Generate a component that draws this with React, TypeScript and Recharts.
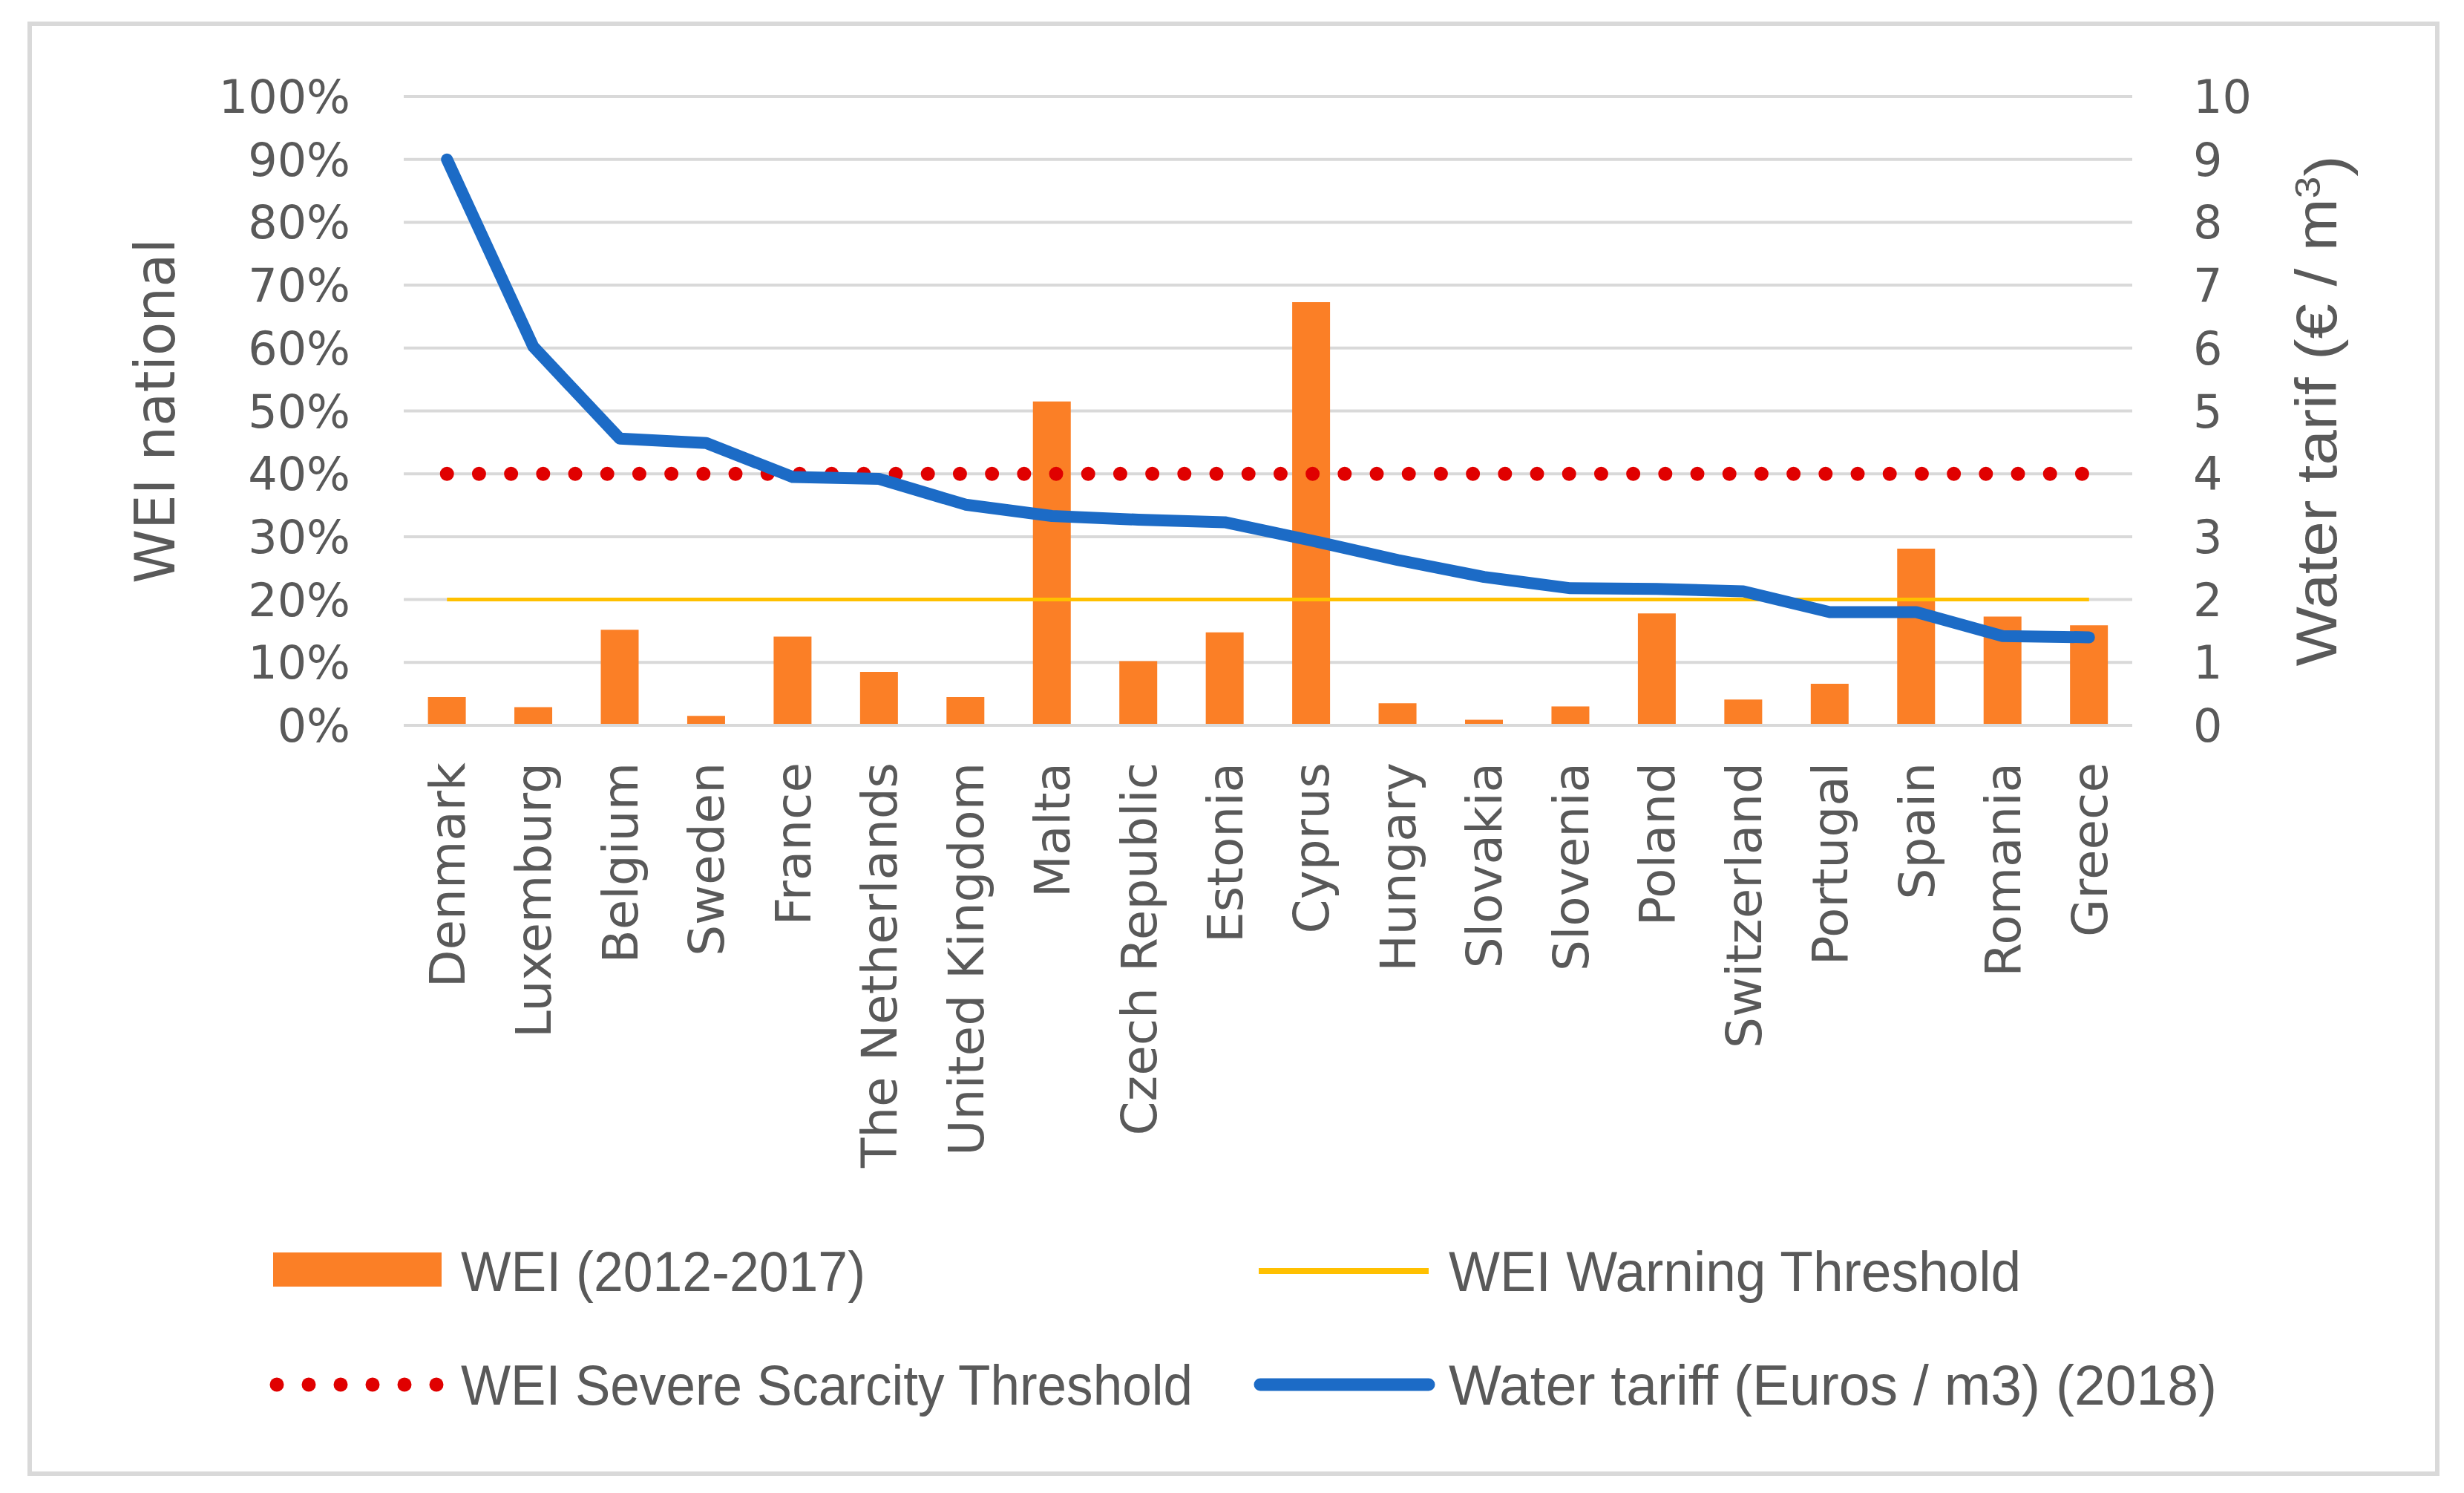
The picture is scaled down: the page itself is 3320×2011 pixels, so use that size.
import {
  ComposedChart,
  Bar,
  Line,
  XAxis,
  YAxis,
  CartesianGrid,
  Label,
} from "recharts"

const countries = [
  "Denmark", "Luxemburg", "Belgium", "Sweden", "France", "The Netherlands",
  "United Kingdom", "Malta", "Czech Republic", "Estonia", "Cyprus", "Hungary",
  "Slovakia", "Slovenia", "Poland", "Switzerland", "Portugal", "Spain",
  "Romania", "Greece",
]

// WEI (2012-2017), %
const wei = [
  4.5, 2.9, 15.2, 1.5, 14.1, 8.5, 4.5, 51.5, 10.2, 14.8,
  67.3, 3.5, 0.9, 3.0, 17.8, 4.1, 6.6, 28.1, 17.3, 15.9,
]

// Water tariff (Euros / m3) (2018)
const tariff = [
  9.0, 6.02, 4.56, 4.49, 3.95, 3.92, 3.51, 3.33, 3.27, 3.23,
  2.94, 2.63, 2.36, 2.18, 2.17, 2.13, 1.8, 1.8, 1.42, 1.4,
]

const warningThreshold = 20
const severeThreshold = 40

const leftTicks = [0, 10, 20, 30, 40, 50, 60, 70, 80, 90, 100]
const rightTicks = [0, 1, 2, 3, 4, 5, 6, 7, 8, 9, 10]

const data = countries.map((c, i) => ({
  country: c,
  wei: wei[i],
  tariff: tariff[i],
  warning: warningThreshold,
  severe: severeThreshold,
}))

const ORANGE = "#fb7f26"
const YELLOW = "#ffc000"
const RED = "#e00000"
const BLUE = "#1c6bc6"
const GREY = "#d9d9d9"
const TEXT = "#595959"

const verdana = "'DejaVu Sans', Verdana, sans-serif"
// no narrow font installed, so the Calibri-like texts get squeezed with textLength
const narrow = "'Liberation Sans', Arial, sans-serif"

function CountryTick({ x, y, payload }: any) {
  return (
    <text
      x={x}
      y={y}
      transform={`rotate(-90, ${x}, ${y})`}
      textAnchor="end"
      dy="0.36em"
      fill={TEXT}
      fontSize={66}
      fontFamily={verdana}
    >
      {payload.value}
    </text>
  )
}

function LeftTitle({ viewBox }: any) {
  const x = viewBox.x + 208
  const y = viewBox.y + viewBox.height / 2
  return (
    <text
      x={x}
      y={y}
      transform={`rotate(-90, ${x}, ${y})`}
      textAnchor="middle"
      dy="0.36em"
      fill={TEXT}
      fontSize={74}
      fontFamily={verdana}
    >
      WEI national
    </text>
  )
}

function RightTitle({ viewBox }: any) {
  const x = viewBox.x + 247
  const y = viewBox.y + viewBox.height / 2
  return (
    <text
      x={x}
      y={y}
      transform={`rotate(-90, ${x}, ${y})`}
      textAnchor="middle"
      dy="0.36em"
      fill={TEXT}
      fontSize={77}
      fontFamily={narrow}
      textLength={688}
      lengthAdjust="spacingAndGlyphs"
    >
      Water tarif (€ / m
      <tspan dy="-0.45em" fontSize={48}>3</tspan>
      <tspan dy="0.45em">)</tspan>
    </text>
  )
}

function LegendText({ x, y, w, children }: any) {
  return (
    <text
      x={x}
      y={y}
      dy="0.36em"
      fill={TEXT}
      fontSize={76}
      fontFamily={narrow}
      textLength={w}
      lengthAdjust="spacingAndGlyphs"
    >
      {children}
    </text>
  )
}

function LegendBlock() {
  const dots = [0, 1, 2, 3, 4, 5]
  return (
    <svg
      width={3320}
      height={400}
      style={{ position: "absolute", left: 0, top: 1600 }}
    >
      {/* row 1 */}
      <rect x={368} y={87} width={227} height={46} fill={ORANGE} />
      <LegendText x={621} y={112} w={545}>WEI (2012-2017)</LegendText>
      <line x1={1696} x2={1925} y1={112} y2={112} stroke={YELLOW} strokeWidth={8} />
      <LegendText x={1952} y={112} w={771}>WEI Warning Threshold</LegendText>

      {/* row 2 */}
      {dots.map((d) => (
        <circle key={d} cx={373 + d * 43} cy={265} r={9.5} fill={RED} />
      ))}
      <LegendText x={621} y={265} w={986}>WEI Severe Scarcity Threshold</LegendText>
      <line
        x1={1698}
        x2={1925}
        y1={265}
        y2={265}
        stroke={BLUE}
        strokeWidth={17}
        strokeLinecap="round"
      />
      <LegendText x={1952} y={265} w={1035}>Water tariff (Euros / m3) (2018)</LegendText>
    </svg>
  )
}

export default function App() {
  return (
    <div
      style={{
        position: "absolute",
        left: 0,
        top: 0,
        width: 3320,
        height: 2011,
        background: "#fff",
      }}
    >
      <ComposedChart
        width={3320}
        height={2011}
        data={data}
        margin={{ top: 130, right: 0, bottom: 434, left: 0 }}
        barCategoryGap="28%"
      >
        <CartesianGrid
          yAxisId="left"
          vertical={false}
          stroke={GREY}
          strokeWidth={4}
        />
        <XAxis
          dataKey="country"
          height={600}
          interval={0}
          tick={<CountryTick />}
          tickLine={false}
          tickSize={0}
          tickMargin={50}
          axisLine={{ stroke: GREY, strokeWidth: 4 }}
        />
        <YAxis
          yAxisId="left"
          width={544}
          domain={[0, 100]}
          ticks={leftTicks}
          tickFormatter={(v) => `${v}%`}
          tick={{ fill: TEXT, fontSize: 62, fontFamily: verdana }}
          tickLine={false}
          tickSize={0}
          tickMargin={72}
          axisLine={false}
        >
          <Label content={<LeftTitle />} />
        </YAxis>
        <YAxis
          yAxisId="right"
          orientation="right"
          width={447}
          domain={[0, 10]}
          ticks={rightTicks}
          tick={{ fill: TEXT, fontSize: 62, fontFamily: verdana }}
          tickLine={false}
          tickSize={0}
          tickMargin={82}
          axisLine={false}
        >
          <Label content={<RightTitle />} />
        </YAxis>

        <Bar
          yAxisId="left"
          dataKey="wei"
          fill={ORANGE}
          isAnimationActive={false}
        />
        <Line
          yAxisId="left"
          dataKey="warning"
          type="linear"
          stroke={YELLOW}
          strokeWidth={5}
          dot={false}
          activeDot={false}
          isAnimationActive={false}
        />
        <Line
          yAxisId="left"
          dataKey="severe"
          type="linear"
          stroke={RED}
          strokeWidth={19}
          strokeDasharray="0 43.2"
          strokeLinecap="round"
          dot={false}
          activeDot={false}
          isAnimationActive={false}
        />
        <Line
          yAxisId="right"
          dataKey="tariff"
          type="linear"
          stroke={BLUE}
          strokeWidth={16}
          strokeLinejoin="round"
          strokeLinecap="round"
          dot={false}
          activeDot={false}
          isAnimationActive={false}
        />
      </ComposedChart>

      <LegendBlock />

      <div
        style={{
          position: "absolute",
          left: 37,
          top: 29,
          width: 3250,
          height: 1959,
          border: `6px solid ${GREY}`,
          boxSizing: "border-box",
          pointerEvents: "none",
        }}
      />
    </div>
  )
}
